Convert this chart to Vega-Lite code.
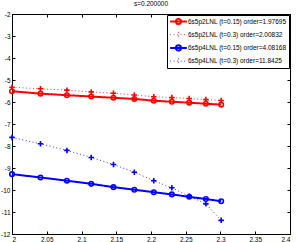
{
  "$schema": "https://vega.github.io/schema/vega-lite/v6.json",
  "width": 278,
  "height": 220,
  "autosize": {"type": "none"},
  "padding": {"left": 12, "top": 14, "right": 8, "bottom": 8},
  "title": {"text": "s=0.200000", "fontSize": 6.5, "fontWeight": "normal", "font": "Liberation Sans", "offset": 4, "color": "black"},
  "config": {
    "view": {"stroke": "black", "strokeWidth": 1},
    "axis": {
      "domainColor": "black", "tickColor": "black", "tickSize": -3, "grid": false,
      "labelFont": "Liberation Sans", "labelFontSize": 6.5, "labelColor": "black", "labelPadding": 5, "title": null
    },
    "legend": {
      "orient": "top-right", "offset": 1, "strokeColor": "black", "fillColor": "white",
      "padding": 2, "labelFont": "Liberation Sans", "labelFontSize": 6.5, "labelColor": "black",
      "symbolSize": 49, "rowPadding": 0.7, "labelOffset": 5, "symbolOffset": 5, "labelLimit": 300
    }
  },
  "data": {"values": [
    {"x": 2.000, "y": -5.51, "series": "6s5p2LNL (t=0.15) order=1.97695"},
    {"x": 2.041, "y": -5.62, "series": "6s5p2LNL (t=0.15) order=1.97695"},
    {"x": 2.079, "y": -5.69, "series": "6s5p2LNL (t=0.15) order=1.97695"},
    {"x": 2.114, "y": -5.75, "series": "6s5p2LNL (t=0.15) order=1.97695"},
    {"x": 2.146, "y": -5.81, "series": "6s5p2LNL (t=0.15) order=1.97695"},
    {"x": 2.176, "y": -5.86, "series": "6s5p2LNL (t=0.15) order=1.97695"},
    {"x": 2.204, "y": -5.94, "series": "6s5p2LNL (t=0.15) order=1.97695"},
    {"x": 2.230, "y": -5.99, "series": "6s5p2LNL (t=0.15) order=1.97695"},
    {"x": 2.255, "y": -6.03, "series": "6s5p2LNL (t=0.15) order=1.97695"},
    {"x": 2.279, "y": -6.08, "series": "6s5p2LNL (t=0.15) order=1.97695"},
    {"x": 2.301, "y": -6.12, "series": "6s5p2LNL (t=0.15) order=1.97695"},
    {"x": 2.000, "y": -5.33, "series": "6s5p2LNL (t=0.3) order=2.00832"},
    {"x": 2.041, "y": -5.40, "series": "6s5p2LNL (t=0.3) order=2.00832"},
    {"x": 2.079, "y": -5.46, "series": "6s5p2LNL (t=0.3) order=2.00832"},
    {"x": 2.114, "y": -5.54, "series": "6s5p2LNL (t=0.3) order=2.00832"},
    {"x": 2.146, "y": -5.60, "series": "6s5p2LNL (t=0.3) order=2.00832"},
    {"x": 2.176, "y": -5.68, "series": "6s5p2LNL (t=0.3) order=2.00832"},
    {"x": 2.204, "y": -5.76, "series": "6s5p2LNL (t=0.3) order=2.00832"},
    {"x": 2.230, "y": -5.80, "series": "6s5p2LNL (t=0.3) order=2.00832"},
    {"x": 2.255, "y": -5.84, "series": "6s5p2LNL (t=0.3) order=2.00832"},
    {"x": 2.279, "y": -5.89, "series": "6s5p2LNL (t=0.3) order=2.00832"},
    {"x": 2.301, "y": -5.93, "series": "6s5p2LNL (t=0.3) order=2.00832"},
    {"x": 2.000, "y": -9.28, "series": "6s5p4LNL (t=0.15) order=4.08168"},
    {"x": 2.041, "y": -9.43, "series": "6s5p4LNL (t=0.15) order=4.08168"},
    {"x": 2.079, "y": -9.58, "series": "6s5p4LNL (t=0.15) order=4.08168"},
    {"x": 2.114, "y": -9.72, "series": "6s5p4LNL (t=0.15) order=4.08168"},
    {"x": 2.146, "y": -9.87, "series": "6s5p4LNL (t=0.15) order=4.08168"},
    {"x": 2.176, "y": -9.99, "series": "6s5p4LNL (t=0.15) order=4.08168"},
    {"x": 2.204, "y": -10.10, "series": "6s5p4LNL (t=0.15) order=4.08168"},
    {"x": 2.230, "y": -10.20, "series": "6s5p4LNL (t=0.15) order=4.08168"},
    {"x": 2.255, "y": -10.31, "series": "6s5p4LNL (t=0.15) order=4.08168"},
    {"x": 2.279, "y": -10.41, "series": "6s5p4LNL (t=0.15) order=4.08168"},
    {"x": 2.301, "y": -10.51, "series": "6s5p4LNL (t=0.15) order=4.08168"},
    {"x": 2.000, "y": -7.61, "series": "6s5p4LNL (t=0.3) order=11.8425"},
    {"x": 2.041, "y": -7.90, "series": "6s5p4LNL (t=0.3) order=11.8425"},
    {"x": 2.079, "y": -8.20, "series": "6s5p4LNL (t=0.3) order=11.8425"},
    {"x": 2.114, "y": -8.52, "series": "6s5p4LNL (t=0.3) order=11.8425"},
    {"x": 2.146, "y": -8.84, "series": "6s5p4LNL (t=0.3) order=11.8425"},
    {"x": 2.176, "y": -9.19, "series": "6s5p4LNL (t=0.3) order=11.8425"},
    {"x": 2.204, "y": -9.58, "series": "6s5p4LNL (t=0.3) order=11.8425"},
    {"x": 2.230, "y": -9.90, "series": "6s5p4LNL (t=0.3) order=11.8425"},
    {"x": 2.255, "y": -10.28, "series": "6s5p4LNL (t=0.3) order=11.8425"},
    {"x": 2.279, "y": -10.63, "series": "6s5p4LNL (t=0.3) order=11.8425"},
    {"x": 2.301, "y": -11.38, "series": "6s5p4LNL (t=0.3) order=11.8425"}
  ]},
  "layer": [
    {
      "mark": {"type": "line", "clip": true},
      "encoding": {
        "x": {"field": "x", "type": "quantitative", "scale": {"domain": [2, 2.4], "nice": false, "zero": false},
              "axis": {"orient": "bottom", "values": [2, 2.05, 2.1, 2.15, 2.2, 2.25, 2.3, 2.35, 2.4], "labelExpr": "'' + datum.value"}},
        "y": {"field": "y", "type": "quantitative", "scale": {"domain": [-12, -2], "nice": false, "zero": false},
              "axis": {"orient": "left", "values": [-12, -11, -10, -9, -8, -7, -6, -5, -4, -3, -2], "labelExpr": "'' + datum.value"}},
        "color": {"field": "series", "type": "nominal", "legend": {"title": null},
                  "scale": {"domain": ["6s5p2LNL (t=0.15) order=1.97695", "6s5p2LNL (t=0.3) order=2.00832", "6s5p4LNL (t=0.15) order=4.08168", "6s5p4LNL (t=0.3) order=11.8425"],
                            "range": ["#ff0000", "#ff0000", "#0000ff", "#0000ff"]}},
        "strokeDash": {"field": "series", "type": "nominal", "legend": {"title": null},
                  "scale": {"domain": ["6s5p2LNL (t=0.15) order=1.97695", "6s5p2LNL (t=0.3) order=2.00832", "6s5p4LNL (t=0.15) order=4.08168", "6s5p4LNL (t=0.3) order=11.8425"],
                            "range": [[1, 0], [1, 2.5], [1, 0], [1, 2.5]]}},
        "strokeWidth": {"field": "series", "type": "nominal", "legend": {"title": null},
                  "scale": {"type": "ordinal", "domain": ["6s5p2LNL (t=0.15) order=1.97695", "6s5p2LNL (t=0.3) order=2.00832", "6s5p4LNL (t=0.15) order=4.08168", "6s5p4LNL (t=0.3) order=11.8425"],
                            "range": [2, 0.8, 2, 0.8]}}
      }
    },
    {
      "transform": [{"filter": "indexof(datum.series, 't=0.15') >= 0"}],
      "mark": {"type": "point", "shape": "circle", "filled": false, "size": 20, "strokeWidth": 1.6, "opacity": 1},
      "encoding": {
        "x": {"field": "x", "type": "quantitative", "axis": null},
        "y": {"field": "y", "type": "quantitative", "axis": null},
        "color": {"field": "series", "type": "nominal"}
      }
    },
    {
      "transform": [{"filter": "indexof(datum.series, 't=0.3') >= 0"}],
      "mark": {"type": "point", "shape": "M-1,0H1M0,-1V1", "filled": false, "size": 30, "strokeWidth": 1.6, "opacity": 1},
      "encoding": {
        "x": {"field": "x", "type": "quantitative", "axis": null},
        "y": {"field": "y", "type": "quantitative", "axis": null},
        "color": {"field": "series", "type": "nominal"}
      }
    },
    {
      "mark": {"type": "point", "filled": false, "opacity": 0},
      "encoding": {
        "x": {"field": "x", "type": "quantitative", "axis": {"orient": "top", "labels": false, "values": [2, 2.05, 2.1, 2.15, 2.2, 2.25, 2.3, 2.35, 2.4]}},
        "y": {"field": "y", "type": "quantitative", "axis": {"orient": "right", "labels": false, "values": [-12, -11, -10, -9, -8, -7, -6, -5, -4, -3, -2]}},
        "color": {"field": "series", "type": "nominal"},
        "shape": {"field": "series", "type": "nominal", "legend": {"title": null},
                  "scale": {"domain": ["6s5p2LNL (t=0.15) order=1.97695", "6s5p2LNL (t=0.3) order=2.00832", "6s5p4LNL (t=0.15) order=4.08168", "6s5p4LNL (t=0.3) order=11.8425"],
                            "range": ["M-2.4,0H2.4M-0.75,0A0.75,0.75,0,1,1,0.75,0A0.75,0.75,0,1,1,-0.75,0", "M-2.4,0H2.4M0,-0.8V0.8", "M-2.4,0H2.4M-0.75,0A0.75,0.75,0,1,1,0.75,0A0.75,0.75,0,1,1,-0.75,0", "M-2.4,0H2.4M0,-0.8V0.8"]}}
      }
    }
  ]
}
